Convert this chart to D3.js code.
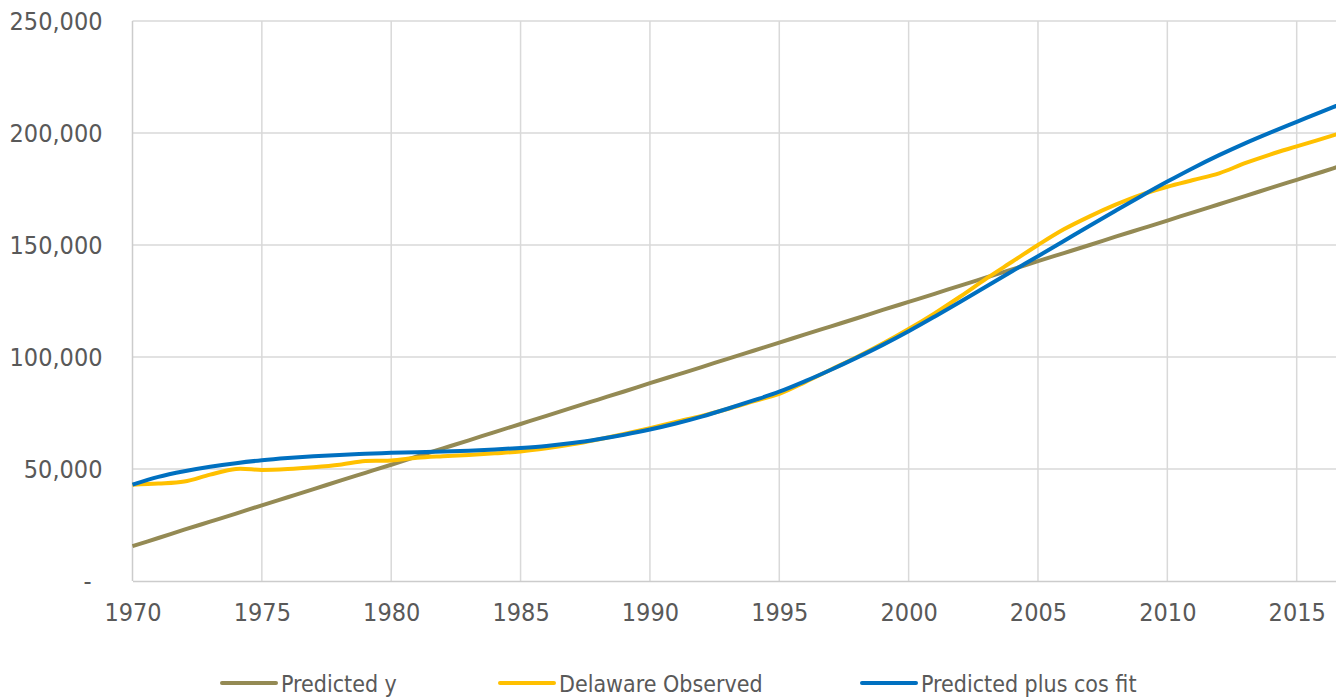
<!DOCTYPE html>
<html>
<head>
<meta charset="utf-8">
<script src="https://cdn.jsdelivr.net/npm/d3@7/dist/d3.min.js"></script>
<style>
  body { margin: 0; background: #fff; }
  text { font-family: "DejaVu Sans Condensed", "DejaVu Sans", sans-serif; font-stretch: condensed; fill: #595959; }
</style>
</head>
<body>
<script>
//chart data
var years = d3.range(1970, 2018);

var predictedY = [15600, 19200, 22900, 26500, 30100, 33800, 37400, 41000, 44700, 48300,
    51900, 55600, 59200, 62800, 66500, 70100, 73700, 77400, 81000, 84600,
    88300, 91900, 95500, 99200, 102800, 106400, 110100, 113700, 117300, 121000,
    124600, 128200, 131900, 135500, 139100, 142800, 146400, 150000, 153700, 157300,
    160900, 164600, 168200, 171800, 175500, 179100, 182700, 186400];

var observed = [43000, 43500, 44400, 47500, 50000, 49600, 50000, 50800, 51900, 53600,
    53800, 55000, 55700, 56300, 57000, 57800, 59200, 61000, 63200, 65600,
    68200, 71000, 73700, 76800, 80200, 83500, 88800, 94400, 100000, 106000,
    112500, 119500, 127000, 135000, 142500, 150000, 157000, 162800, 168000, 172500,
    176000, 179000, 182000, 186500, 190500, 194000, 197500, 201000];

var cosFit = [43000, 46500, 49000, 51000, 52600, 53900, 54900, 55700, 56300, 56800,
    57200, 57500, 57800, 58200, 58700, 59400, 60300, 61600, 63300, 65300,
    67600, 70300, 73400, 76900, 80600, 84500, 89200, 94300, 99700, 105400,
    111500, 118000, 124700, 131500, 138300, 145000, 151800, 158600, 165300, 171900,
    178300, 184400, 190100, 195400, 200300, 205000, 209700, 214200];

var yTicks = [0, 50000, 100000, 150000, 200000, 250000];
var xTicks = [1970, 1975, 1980, 1985, 1990, 1995, 2000, 2005, 2010, 2015];

var seriesNames = ["Predicted y", "Delaware Observed", "Predicted plus cos fit"];
var seriesColors = ["#948A54", "#FFC000", "#0070C0"];

//svg size
var w = 1336, h = 698;

var svg = d3.select("body")
    .append("svg")
    .attr("width", w)
    .attr("height", h);

//scales
var x = d3.scaleLinear()
    .domain([1970, 2016.5])
    .range([132.5, 1335.5]);

var y = d3.scaleLinear()
    .domain([0, 250000])
    .range([581, 21]);

//gridlines
svg.append("g")
    .selectAll("line.hgrid")
    .data(yTicks.slice(1))
    .enter()
    .append("line")
    .attr("x1", x(1970))
    .attr("x2", w)
    .attr("y1", function(d){ return y(d); })
    .attr("y2", function(d){ return y(d); })
    .style("stroke", "#D9D9D9")
    .style("stroke-width", 1.5);

svg.append("g")
    .selectAll("line.vgrid")
    .data(xTicks)
    .enter()
    .append("line")
    .attr("x1", function(d){ return x(d); })
    .attr("x2", function(d){ return x(d); })
    .attr("y1", y(250000))
    .attr("y2", y(0))
    .style("stroke", function(d){ return d === 1970 ? "#CCCCCC" : "#D9D9D9"; })
    .style("stroke-width", 1.5);

//x axis
var xAxis = d3.axisBottom(x)
    .tickValues(xTicks)
    .tickSize(0)
    .tickPadding(22)
    .tickFormat(d3.format("d"));

var gx = svg.append("g")
    .attr("transform", "translate(0," + y(0) + ")")
    .call(xAxis);
gx.select(".domain").style("stroke", "#CCCCCC").style("stroke-width", 1.5);
gx.selectAll("text").style("font-size", "25px").attr("fill", "#595959");

//y axis
var fmt = d3.format(",");
var yAxis = d3.axisLeft(y)
    .tickValues(yTicks)
    .tickSize(0)
    .tickPadding(30)
    .tickFormat(function(d){ return d === 0 ? "-" : fmt(d); });

var gy = svg.append("g")
    .attr("transform", "translate(" + x(1970) + ",0)")
    .call(yAxis);
gy.select(".domain").remove();
gy.selectAll("text")
    .style("font-size", "25px")
    .attr("fill", "#595959")
    .attr("dx", function(d){ return d === 0 ? -11 : 0; });

//lines
var line = d3.line()
    .x(function(d, i){ return x(years[i]); })
    .y(function(d){ return y(d); })
    .curve(d3.curveCatmullRom.alpha(0.5));

var allSeries = [predictedY, observed, cosFit];

svg.append("g")
    .selectAll("path.series")
    .data(allSeries)
    .enter()
    .append("path")
    .attr("class", "series")
    .attr("d", line)
    .style("fill", "none")
    .style("stroke", function(d, i){ return seriesColors[i]; })
    .style("stroke-width", 4)
    .style("stroke-linejoin", "round");

//legend
var legendX = [222, 500, 862];
var legend = svg.append("g")
    .selectAll("g.legend")
    .data(seriesNames)
    .enter()
    .append("g")
    .attr("transform", function(d, i){ return "translate(" + legendX[i] + ",683)"; });

legend.append("line")
    .attr("x1", 0)
    .attr("x2", 54)
    .style("stroke", function(d, i){ return seriesColors[i]; })
    .style("stroke-width", 4)
    .style("stroke-linecap", "round");

legend.append("text")
    .attr("x", 59)
    .attr("y", 9)
    .style("font-size", "23px")
    .text(function(d){ return d; });
</script>
</body>
</html>
